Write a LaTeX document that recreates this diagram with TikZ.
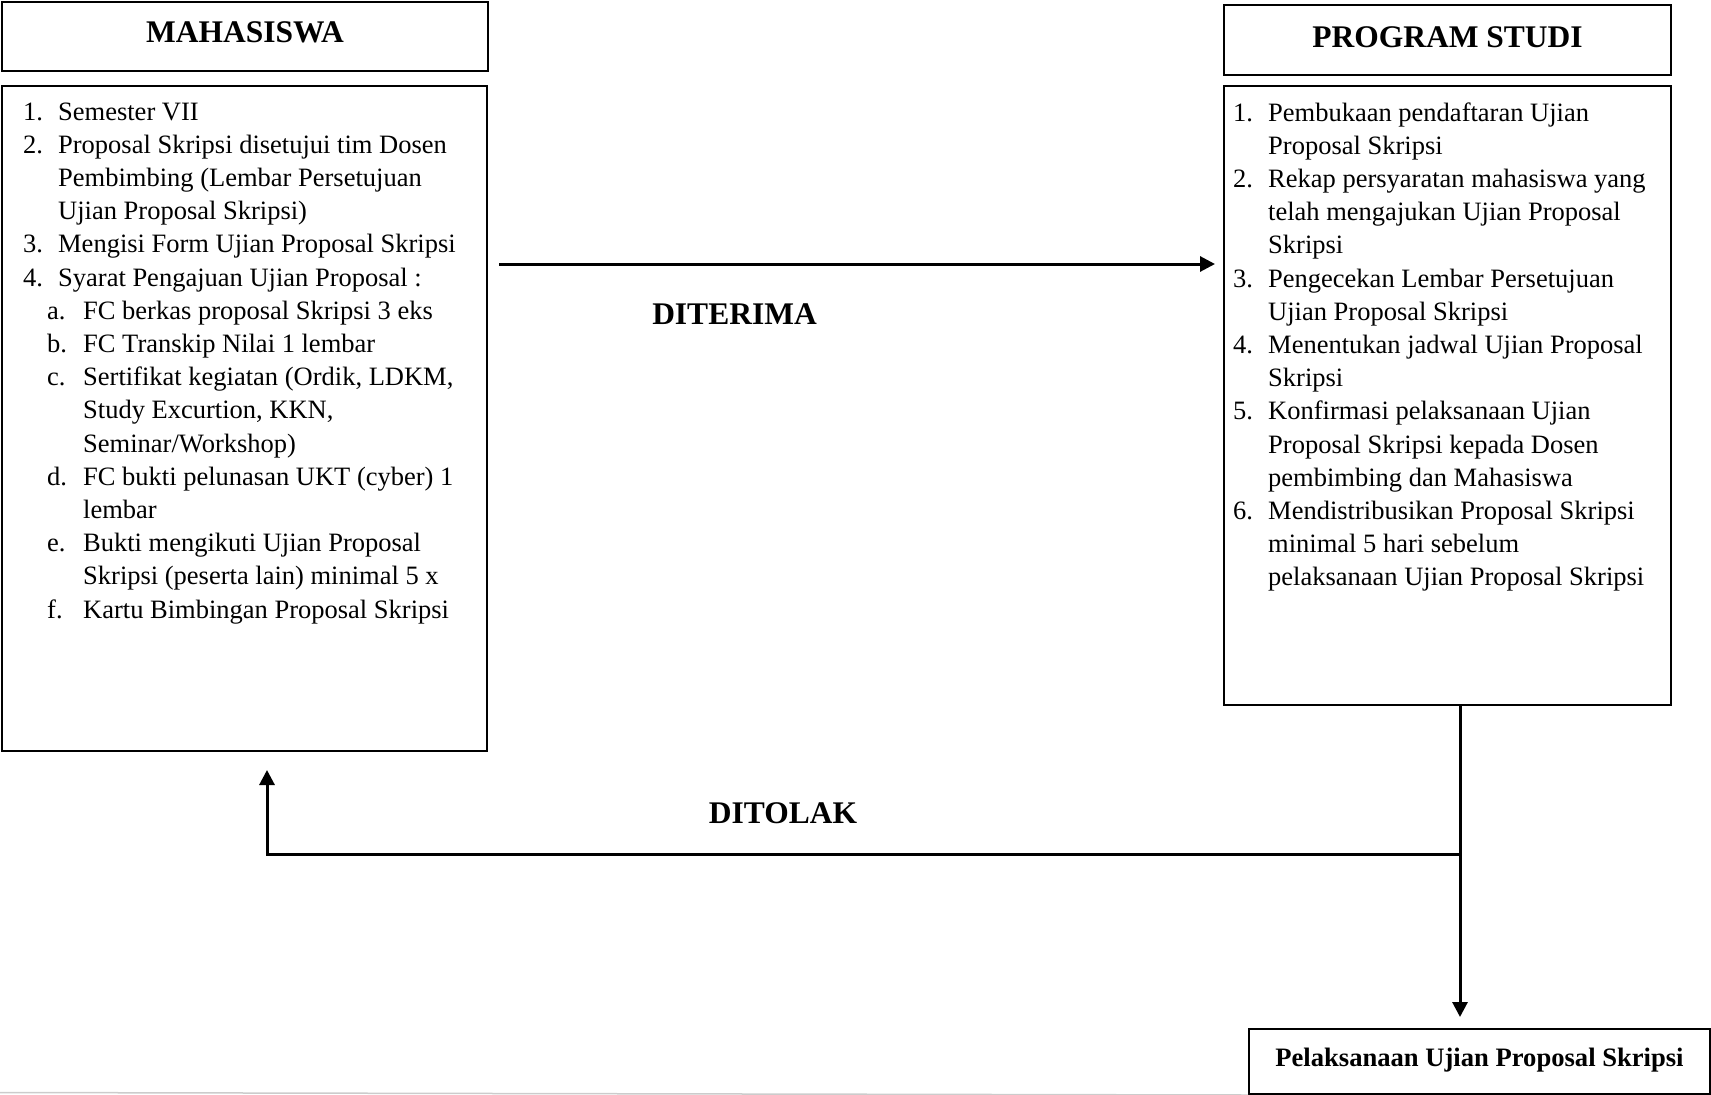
\documentclass[tikz,border=0pt]{standalone}
\usepackage{fontspec}
\setmainfont{Liberation Serif}
\usetikzlibrary{arrows.meta,calc}
\newcommand\bodyfont{\fontsize{26.5}{33.2}\selectfont}
\newcommand\headfont{\fontsize{31.5}{36}\selectfont\bfseries}
\newcommand\nb[1]{\makebox[35pt][l]{#1}}
\newcommand\hgi{\hspace*{35pt}}
\newcommand\subit[1]{\hspace*{24pt}\makebox[36pt][l]{#1}}
\newcommand\subind{\hspace*{60pt}}
\begin{document}
\begin{tikzpicture}[x=1pt,y=-1pt,
  box/.style={draw,line width=2pt,rectangle,inner sep=0pt,anchor=north west},
  arr/.style={line width=3pt,-{Triangle[length=15pt,width=15pt]}},
  txt/.style={anchor=base west,inner sep=0pt}]
\useasboundingbox (0,0) rectangle (1711,1095);
% boxes
\node[box,minimum width=486,text height=40.7,text depth=28.3] (mhsT) at (1,1) {\headfont MAHASISWA};
\node[box,minimum width=485,minimum height=665] (mhsL) at (1,85) {};
\node[box,minimum width=447,text height=42.7,text depth=27.3] (prodiT) at (1223,4) {\headfont PROGRAM STUDI};
\node[box,minimum width=447,minimum height=619] (prodiL) at (1223,85) {};
\node[box,minimum width=461,text height=37,text depth=28] (pel) at (1248,1028)
  {\fontsize{26.6}{30}\selectfont\bfseries Pelaksanaan Ujian Proposal Skripsi};
% list texts
\node[txt] (mhsText) at (23,120) {\parbox[t]{460pt}{\raggedright\bodyfont
\nb{1.}Semester VII\\
\nb{2.}Proposal Skripsi disetujui tim Dosen\\
\hgi Pembimbing (Lembar Persetujuan\\
\hgi Ujian Proposal Skripsi)\\
\nb{3.}Mengisi Form Ujian Proposal Skripsi\\
\nb{4.}Syarat Pengajuan Ujian Proposal :\\
\subit{a.}FC berkas proposal Skripsi 3 eks\\
\subit{b.}FC Transkip Nilai 1 lembar\\
\subit{c.}Sertifikat kegiatan (Ordik, LDKM,\\
\subind Study Excurtion, KKN,\\
\subind Seminar/Workshop)\\
\subit{d.}FC bukti pelunasan UKT (cyber) 1\\
\subind lembar\\
\subit{e.}Bukti mengikuti Ujian Proposal\\
\subind Skripsi (peserta lain) minimal 5 x\\
\subit{f.}Kartu Bimbingan Proposal Skripsi}};
\node[txt] (prodiText) at (1233,121) {\parbox[t]{440pt}{\raggedright\bodyfont
\nb{1.}Pembukaan pendaftaran Ujian\\
\hgi Proposal Skripsi\\
\nb{2.}Rekap persyaratan mahasiswa yang\\
\hgi telah mengajukan Ujian Proposal\\
\hgi Skripsi\\
\nb{3.}Pengecekan Lembar Persetujuan\\
\hgi Ujian Proposal Skripsi\\
\nb{4.}Menentukan jadwal Ujian Proposal\\
\hgi Skripsi\\
\nb{5.}Konfirmasi pelaksanaan Ujian\\
\hgi Proposal Skripsi kepada Dosen\\
\hgi pembimbing dan Mahasiswa\\
\nb{6.}Mendistribusikan Proposal Skripsi\\
\hgi minimal 5 hari sebelum\\
\hgi pelaksanaan Ujian Proposal Skripsi}};
% labels
\node (lblT) at (734.5,314.5) {\headfont DITERIMA};
\node (lblF) at (783,813) {\headfont DITOLAK};
% connectors
\draw[arr] ([shift={(11,179)}]mhsL.north east) -- ([shift={(-8,179)}]prodiL.north west);
\coordinate (j) at ([shift={(12.5,148)}]prodiL.south);
\draw[line width=3pt] ([xshift=12.5]prodiL.south) -- (j);
\draw[arr] (j) -- ([shift={(-19.5,-11)}]pel.north);
\draw[arr] (j) -| ([shift={(266,18)}]mhsL.south west);
% page edge
\draw[black!20,line width=1.5pt] (0,1092.5) -- (pel.south west);
\end{tikzpicture}
\end{document}
